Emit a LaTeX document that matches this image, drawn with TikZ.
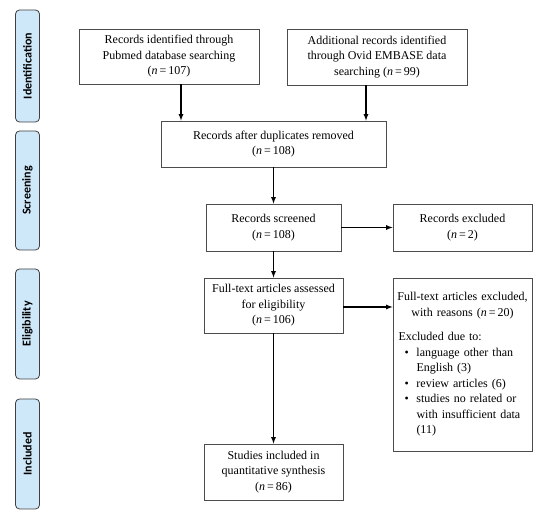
\documentclass[tikz,border=0pt]{standalone}
\usepackage{fontspec}
\setmainfont{Liberation Serif}
\newfontfamily\phasefont{Carlito}
\usetikzlibrary{positioning}
\definecolor{bleuphase}{HTML}{CFE8F9}
\newcommand{\effectif}[1]{(\textit{n}\,=\,#1)}
\newcommand{\raison}[1]{\par\hangindent=21pt\hangafter=1\hspace*{9pt}\makebox[12pt][l]{\textbullet}#1}

\begin{document}
\begin{tikzpicture}[x=1pt,y=-1pt,
    boite/.style={draw=gray!60!black, line width=0.8pt, align=center, inner sep=3pt,
                  font=\fontsize{12}{15.5}\selectfont},
    phase/.style={draw=gray!50!black, fill=bleuphase, rounded corners=4pt, line width=0.8pt,
                  rotate=90, minimum height=24pt, inner sep=0pt,
                  font=\phasefont\bfseries\fontsize{12}{14}\selectfont},
    fleche/.style={-latex, line width=1.2pt}]
        % Cadre de la figure
        \useasboundingbox (0,0) rectangle (550,521);

        % Les phases sur la gauche
        \node[phase, minimum width=112pt] (ident) at (27.5,66) {Identification};
        \node[phase, minimum width=119pt] (screen) at (27.5,190.5) {Screening};
        \node[phase, minimum width=110pt] (elig) at (27.5,324) {Eligibility};
        \node[phase, minimum width=110pt] (incl) at (27.5,454) {Included};

        % Les boites du diagramme
        \node[boite, minimum width=180pt, minimum height=55pt] (pubmed) at (169,56.5)
            {Records identified through\\ Pubmed database searching\\ \effectif{107}};
        \node[boite, minimum width=180pt, minimum height=56pt] (ovid) at (377,57)
            {Additional records identified\\ through Ovid EMBASE data\\ searching \effectif{99}};
        \node[boite, minimum width=225pt, minimum height=46pt] (doublons) at (273.5,144)
            {Records after duplicates removed\\ \effectif{108}};
        \node[boite, minimum width=135pt, minimum height=47pt] (tries) at (273.5,227.5)
            {Records screened\\ \effectif{108}};
        \node[boite, minimum width=139pt, minimum height=47pt] (exclus) at (462.5,227.5)
            {Records excluded\\ \effectif{2}};
        \node[boite, minimum width=139pt, minimum height=55pt] (textes) at (273.5,305.5)
            {Full-text articles assessed\\ for eligibility\\ \effectif{106}};
        \node[boite, minimum width=139pt, minimum height=173pt, text width=134pt, align=left,
              inner sep=2.5pt] (raisons) at (462.5,364.5)
            {\centering Full-text articles excluded,\\ with reasons \effectif{20}\par
             \vspace{9pt}\raggedright\hspace*{3pt}Excluded due to:
             \raison{language other than English (3)}
             \raison{review articles (6)}
             \raison{studies no related or with insufficient data (11)}\par
             \vspace{6pt}};
        \node[boite, minimum width=139pt, minimum height=56pt] (inclus) at (273.5,472)
            {Studies included in\\ quantitative synthesis\\ \effectif{86}};

        % Les fleches
        \draw[fleche] ([xshift=12pt]pubmed.south) -- ([xshift=12pt]pubmed.south |- doublons.north);
        \draw[fleche] ([xshift=-11pt]ovid.south) -- ([xshift=-11pt]ovid.south |- doublons.north);
        \draw[fleche] (doublons.south) -- (tries.north);
        \draw[fleche] (tries.east) -- (exclus.west);
        \draw[fleche] (tries.south) -- (textes.north);
        \draw[fleche] ([yshift=-1.5pt]textes.east) -- ([yshift=-1.5pt]textes.east -| raisons.west);
        \draw[fleche] (textes.south) -- (inclus.north);
\end{tikzpicture}
\end{document}
